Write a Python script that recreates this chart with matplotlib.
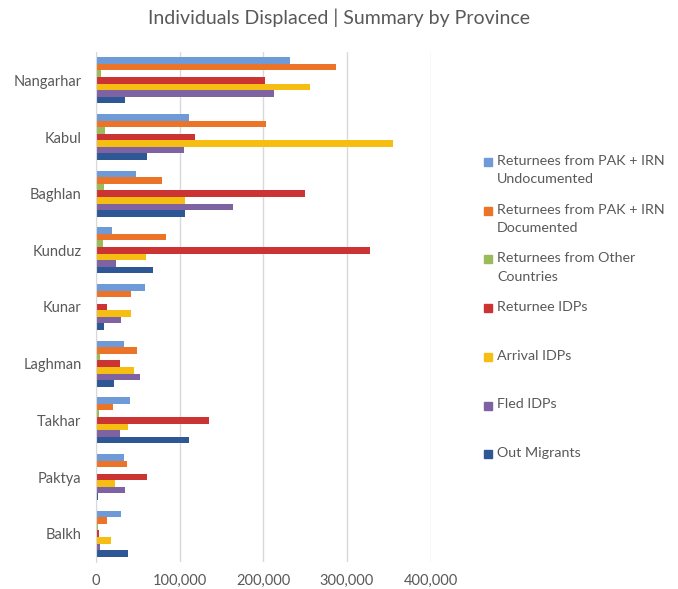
import matplotlib
matplotlib.use("Agg")
import matplotlib.pyplot as plt
import numpy as np
from matplotlib.patches import Rectangle
from matplotlib.ticker import FuncFormatter

provinces = ["Nangarhar", "Kabul", "Baghlan", "Kunduz", "Kunar", "Laghman", "Takhar", "Paktya", "Balkh"]
series_names = [
    "Returnees from PAK + IRN\nUndocumented",
    "Returnees from PAK + IRN\nDocumented",
    "Returnees from Other\nCountries",
    "Returnee IDPs",
    "Arrival IDPs",
    "Fled IDPs",
    "Out Migrants",
]
undocumented = [231600, 111200, 47400, 18700, 58600, 33900, 40200, 33900, 29500]
documented = [286600, 202900, 78900, 84100, 42300, 49400, 19900, 37100, 13200]
other_countries = [5600, 10400, 9200, 8800, 500, 4400, 4000, 1000, 2000]
returnee_idps = [202000, 118800, 249500, 327300, 13500, 29100, 135100, 60600, 3600]
arrival_idps = [255500, 354700, 106800, 59800, 41500, 45000, 38300, 22700, 17900]
fled_idps = [212800, 105600, 164200, 23500, 29900, 52600, 28700, 34700, 4800]
out_migrants = [34700, 61000, 106800, 67800, 10000, 21500, 111600, 2000, 37900]

series = [undocumented, documented, other_countries, returnee_idps, arrival_idps, fled_idps, out_migrants]
colors = ["#6E9BD8", "#EC7429", "#9BBB59", "#CC3333", "#F6BE12", "#7E62A1", "#2E5895"]

txt = "#595959"
plt.rcParams["font.family"] = ["Lato", "DejaVu Sans"]

fig = plt.figure(figsize=(6.78, 5.89), dpi=100)
W, H = 678, 589
ax = fig.add_axes([96 / W, 1 - 562 / H, (430.5 - 96) / W, (562 - 52) / H])

n = len(series)
group = 0.81
bh = group / n
y = np.arange(len(provinces))
for i, (vals, c) in enumerate(zip(series, colors)):
    off = -group / 2 + bh * (i + 0.5)
    ax.barh(y + off, vals, height=bh, color=c, zorder=3)

ax.set_ylim(len(provinces) - 0.5, -0.5)
ax.set_xlim(0, 400000)
ax.set_xticks([0, 100000, 200000, 300000, 400000])
ax.xaxis.set_major_formatter(FuncFormatter(lambda v, p: f"{int(v):,}"))
ax.set_yticks(y)
ax.set_yticklabels(provinces)
ax.tick_params(axis="both", length=0, colors=txt, labelsize=10.5)
ax.tick_params(axis="y", pad=10.5)
ax.tick_params(axis="x", pad=8.5)
ax.grid(axis="x", color="#D9D9D9", linewidth=1.0, zorder=0)
for s in ["top", "right", "bottom"]:
    ax.spines[s].set_visible(False)
ax.spines["left"].set_color("#D9D9D9")
ax.spines["left"].set_zorder(4)

fig.text(0.5, 1 - 18 / H, "Individuals Displaced | Summary by Province", ha="center", va="center",
         fontsize=14, color=txt)

# legend
top = 162
step = 48.7
for i, (name, c) in enumerate(zip(series_names, colors)):
    yc = top + i * step
    fig.patches.append(Rectangle((484 / W, 1 - (yc + 4) / H), 8 / W, 8 / H,
                                 transform=fig.transFigure, color=c, figure=fig))
    fig.text(497 / W, 1 - (yc - 7) / H, name, ha="left", va="top", fontsize=10.3,
             color=txt, linespacing=1.62)

fig.savefig("out.png", dpi=100)
